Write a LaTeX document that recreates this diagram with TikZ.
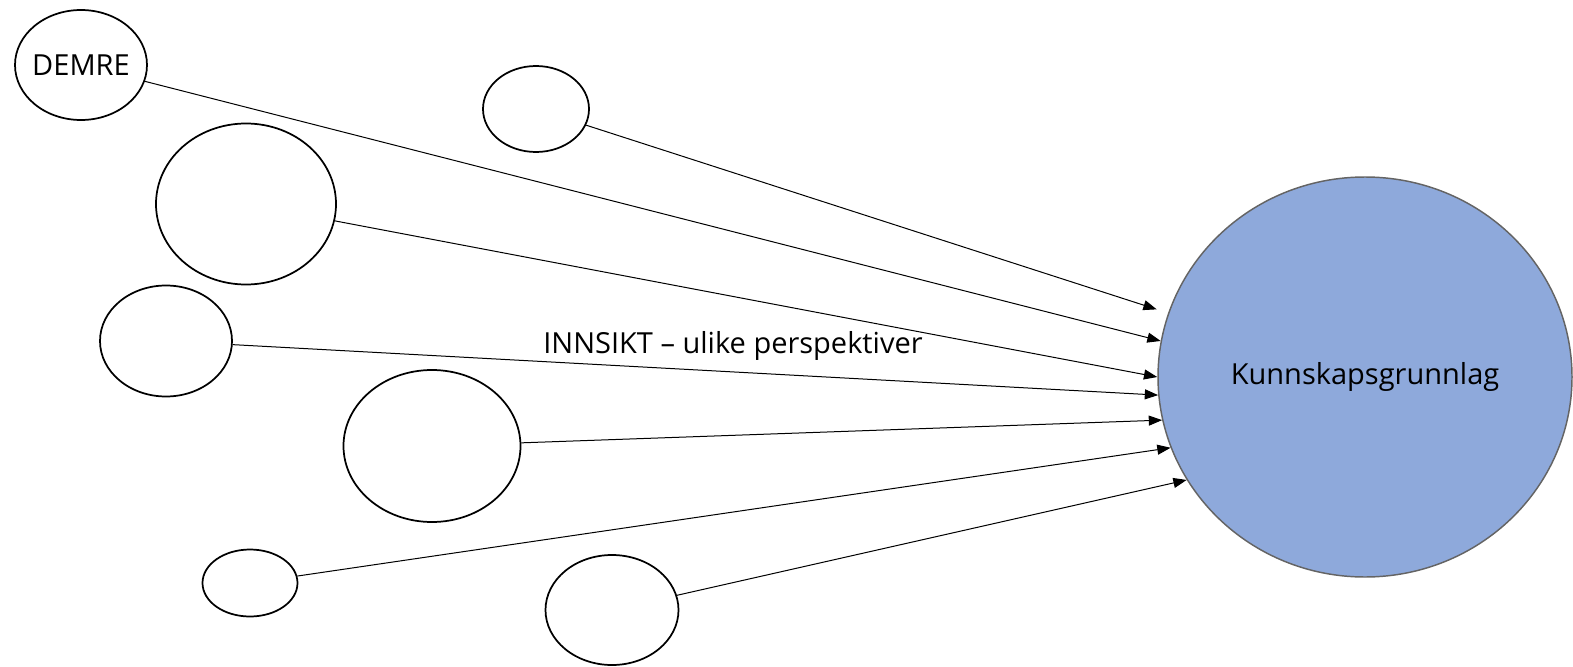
\documentclass[tikz,border=0pt]{standalone}
\usepackage{fontspec}
\setmainfont{Open Sans}
\usetikzlibrary{shapes.geometric,arrows.meta}

\definecolor{hubfill}{RGB}{142,169,219}
\definecolor{hubline}{RGB}{100,100,100}

\tikzset{every picture/.style={line width=0.75pt}}
\tikzset{
  bubble/.style={ellipse,draw,line width=1.3pt,inner sep=0pt},
  hub/.style={ellipse,draw=hubline,fill=hubfill,line width=1.1pt,inner sep=0pt,
    minimum width=310.5pt,minimum height=300pt},
  pil/.style={-{Triangle[length=10pt,width=7.5pt]},line width=0.75pt}
}

\begin{document}
\begin{tikzpicture}[x=0.75pt,y=0.75pt,yscale=-1,xscale=1,
  font=\fontsize{21.75}{26}\selectfont]
\useasboundingbox (0,0) rectangle (1573,667);

%Shape: Ellipse (Kunnskapsgrunnlag)
\node [hub] (kg) at (1365,377) {Kunnskapsgrunnlag};

%Shape: Ellipse (DEMRE)
\node [bubble,minimum width=99pt,minimum height=82.5pt,label=center:DEMRE] (demre) at (81,65) {};
%Shape: Ellipse
\node [bubble,minimum width=79.5pt,minimum height=64.5pt] (e2) at (536,109) {};
%Shape: Ellipse
\node [bubble,minimum width=135pt,minimum height=120.75pt] (e3) at (246,204) {};
%Shape: Ellipse
\node [bubble,minimum width=99pt,minimum height=83.25pt] (e4) at (166,341) {};
%Shape: Ellipse
\node [bubble,minimum width=132.75pt,minimum height=114pt] (e5) at (432,446) {};
%Shape: Ellipse
\node [bubble,minimum width=71.25pt,minimum height=50.25pt] (e6) at (250,583) {};
%Shape: Ellipse
\node [bubble,minimum width=99.75pt,minimum height=82.5pt] (e7) at (612,610) {};

%Straight Lines
\draw [pil,shorten >=9pt] (e2) -- (kg.162.6);
\draw [pil] (demre) -- (kg.170.7);
\draw [pil] (e3) -- (kg.west);
\draw [pil] (e4) -- (kg.185.8);
\draw [pil] (e5) -- (kg.192.7);
\draw [pil] (e6) -- (kg.200.8);
\draw [pil] (e7) -- (kg.210.5);

% Text Node
\node [anchor=base,inner sep=0pt] (innsikt) at (733,353) {INNSIKT – ulike perspektiver};

\end{tikzpicture}
\end{document}
